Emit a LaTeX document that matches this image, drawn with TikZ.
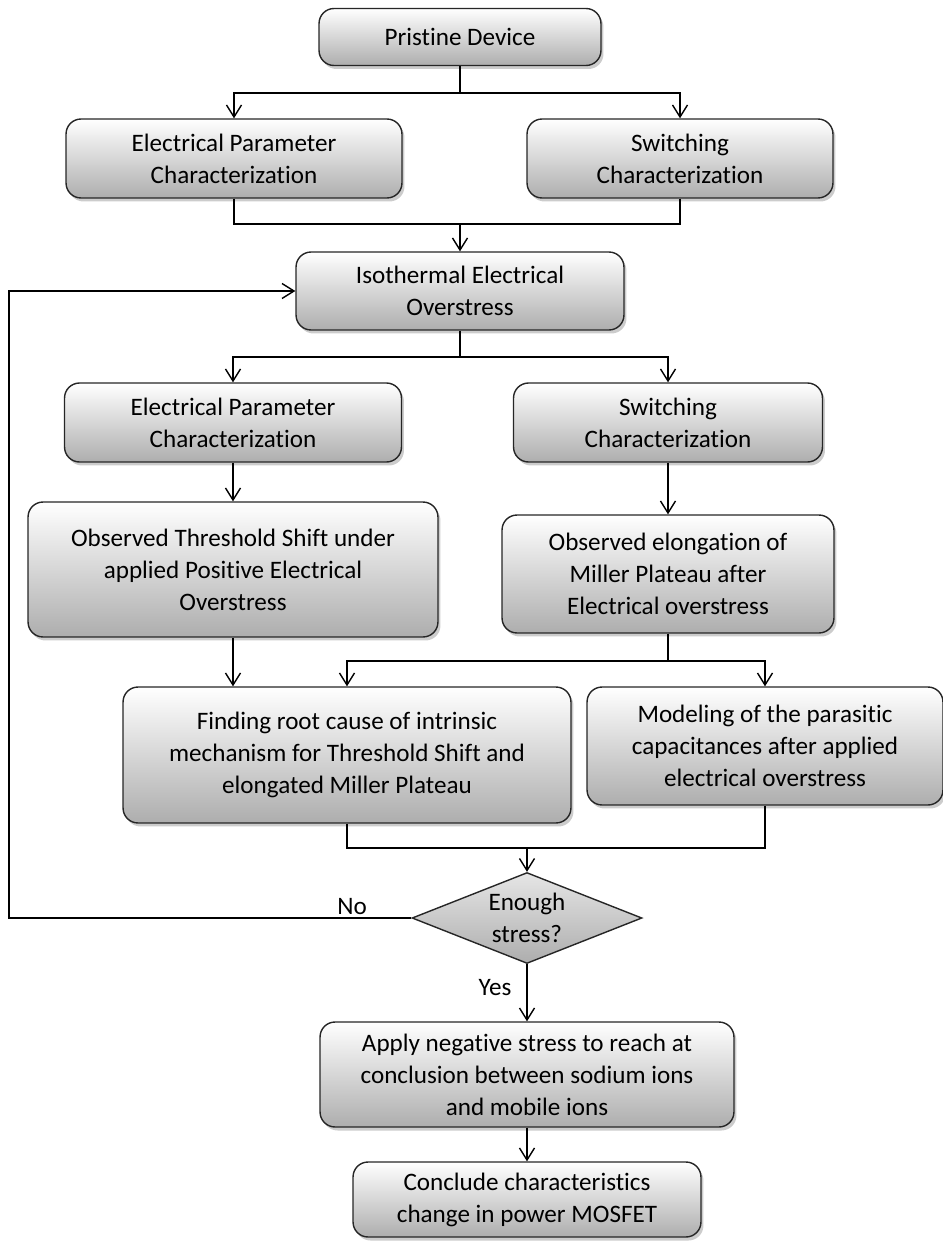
\documentclass[tikz,border=0pt]{standalone}
\usepackage{fontspec}
\setmainfont{Carlito}[Ligatures={NoCommon}]
\usetikzlibrary{arrows.meta,shapes.geometric,shadows}

\begin{document}
\begin{tikzpicture}[x=0.02cm,y=-0.02cm,line width=0.8pt,
  >={Straight Barb[length=0.24cm,width=0.3cm]},
  box/.style={draw=black!85,rounded corners=0.3cm,align=center,inner sep=2pt,
    top color=white,bottom color=black!32,
    drop shadow={shadow xshift=0.5mm,shadow yshift=-0.7mm,opacity=0.4},
    font=\fontsize{14.3}{18.2}\selectfont},
  decision/.style={diamond,aspect=2.5,draw=black!85,align=center,inner sep=0pt,
    top color=black!10,bottom color=black!32,
    minimum width=4.6cm,minimum height=1.82cm,font=\fontsize{14.3}{18.2}\selectfont},
  lbl/.style={font=\fontsize{14.3}{18.2}\selectfont,inner sep=1pt}]
  \useasboundingbox (0,0) rectangle (943,1241);

  \node[box,minimum width=5.64cm,minimum height=1.14cm] (pristine) at (460,37) {Pristine Device};
  \node[box,minimum width=6.72cm,minimum height=1.58cm] (epc1) at (234,158.5) {Electrical Parameter\\Characterization};
  \node[box,minimum width=6.12cm,minimum height=1.58cm] (sc1) at (680,158.5) {Switching\\Characterization};
  \node[box,minimum width=6.56cm,minimum height=1.56cm] (iso) at (460,291) {Isothermal Electrical\\Overstress};
  \node[box,minimum width=6.74cm,minimum height=1.58cm] (epc2) at (233,422.5) {Electrical Parameter\\Characterization};
  \node[box,minimum width=6.18cm,minimum height=1.58cm] (sc2) at (668,422.5) {Switching\\Characterization};
  \node[box,minimum width=8.2cm,minimum height=2.7cm] (thr) at (233,569.5) {Observed Threshold Shift under\\applied Positive Electrical\\Overstress};
  \node[box,minimum width=6.64cm,minimum height=2.36cm] (elo) at (668,574) {Observed elongation of\\Miller Plateau after\\Electrical overstress};
  \node[box,minimum width=8.96cm,minimum height=2.72cm] (find) at (347,755) {Finding root cause of intrinsic\\mechanism for Threshold Shift and\\elongated Miller Plateau};
  \node[box,minimum width=7.12cm,minimum height=2.36cm] (model) at (765,746) {Modeling of the parasitic\\capacitances after applied\\electrical overstress};
  \node[decision] (dia) at (527,918) {Enough\\stress?};
  \node[box,minimum width=8.28cm,minimum height=2.1cm] (apply) at (527,1074.5) {Apply negative stress to reach at\\conclusion between sodium ions\\and mobile ions};
  \node[box,minimum width=6.96cm,minimum height=1.5cm] (concl) at (527,1199.5) {Conclude characteristics\\change in power MOSFET};

  \coordinate (j1) at (460,93);
  \coordinate (j2) at (460,224);
  \coordinate (j3) at (460,357);
  \coordinate (j4) at (668,661);
  \coordinate (j5) at (527,848);
  \coordinate (fb) at (9,918);

  \draw (pristine) -- (j1);
  \draw[->] (j1) -| (epc1);
  \draw[->] (j1) -| (sc1);
  \draw (epc1) |- (j2);
  \draw (sc1) |- (j2);
  \draw[->] (j2) -- (iso);
  \draw (iso) -- (j3);
  \draw[->] (j3) -| (epc2);
  \draw[->] (j3) -| (sc2);
  \draw[->] (epc2) -- (thr);
  \draw[->] (sc2) -- (elo);
  \draw (elo) -- (j4);
  \draw[->] (j4) -| (find);
  \draw[->] (j4) -| (model);
  \draw[->] (thr.south) -- (thr.south |- find.north);
  \draw (find) |- (j5);
  \draw (model) |- (j5);
  \draw[->] (j5) -- (dia);
  \draw[->] (dia.west) -- (fb) |- (iso);
  \draw[->] (dia) -- (apply);
  \draw[->] (apply) -- (concl);

  \node[lbl,anchor=south] (no) at (352,917) {No};
  \node[lbl] (yes) at (495,988) {Yes};
\end{tikzpicture}
\end{document}
